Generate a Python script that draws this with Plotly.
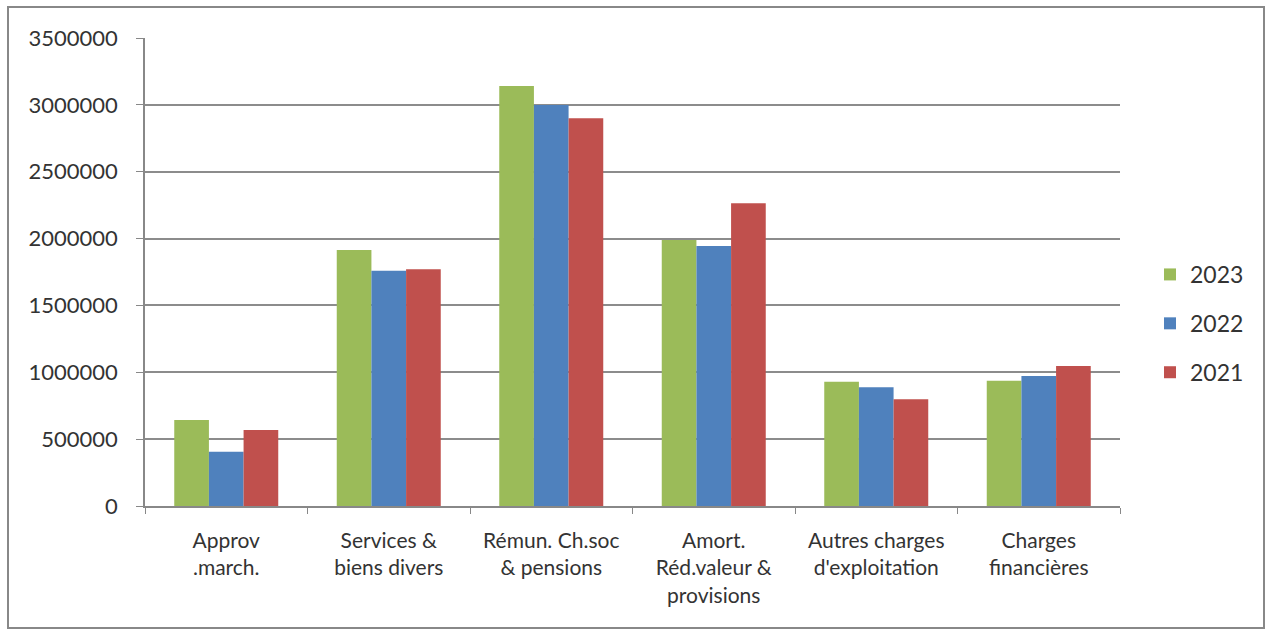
import plotly.graph_objects as go

categories = ["Approv<br>.march.", "Services &<br>biens divers", "Rémun. Ch.soc<br>& pensions",
              "Amort.<br>Réd.valeur &<br>provisions", "Autres charges<br>d'exploitation", "Charges<br>financières"]
series_names = ["2023", "2022", "2021"]
v2023 = [643000, 1915000, 3141000, 1990000, 930000, 937000]
v2022 = [405000, 1760000, 2999000, 1945000, 888000, 972000]
v2021 = [568000, 1770000, 2900000, 2264000, 798000, 1047000]
colors = ["#9BBB59", "#4F81BD", "#C0504D"]
y_ticks = [0, 500000, 1000000, 1500000, 2000000, 2500000, 3000000, 3500000]

W, H = 1272, 635
L, R, T, B = 145, 152, 38, 129

fig = go.Figure()
for i, (name, vals) in enumerate(zip(series_names, [v2023, v2022, v2021])):
    fig.add_trace(go.Bar(x=categories, y=vals, name=name, marker_color=colors[i],
                         marker_line_width=0, legendgroup=name))

yfont = dict(family="Lato, Open Sans, sans-serif", size=22, color="#333333")
xfont = dict(family="Lato, Open Sans, sans-serif", size=21, color="#333333")
fig.update_layout(
    width=W, height=H,
    margin=dict(l=L, r=R, t=T, b=B, pad=0),
    paper_bgcolor="white", plot_bgcolor="white",
    barmode="group", bargap=0.36, bargroupgap=0,
    font=yfont,
    showlegend=True,
    legend=dict(x=1.0 + (1150 - (W - R)) / (W - L - R), y=0.39, xanchor="left", yanchor="middle",
                font=dict(family="Lato, sans-serif", size=23, color="#333333"),
                tracegroupgap=16, itemwidth=30, bgcolor="rgba(0,0,0,0)"),
    xaxis=dict(showline=True, linecolor="#888888", linewidth=1.5, ticks="outside",
               tickson="boundaries", ticklen=6, tickcolor="#888888", showgrid=False,
               tickfont=xfont, ticklabelstandoff=15, tickangle=0, automargin=False),
    yaxis=dict(range=[0, 3500000], tickvals=y_ticks, ticktext=[str(v) for v in y_ticks],
               showline=True, linecolor="#888888", linewidth=1.5, ticks="outside", ticklen=7,
               tickcolor="#888888", showgrid=True, gridcolor="#8c8c8c", gridwidth=1.5,
               zeroline=False, tickfont=yfont, ticklabelstandoff=14, automargin=False),
    shapes=[dict(type="rect", xref="paper", yref="paper",
                 x0=(8 - L) / (W - L - R), x1=(1264 - L) / (W - L - R),
                 y0=(H - B - 628) / (H - T - B), y1=(H - B - 7) / (H - T - B),
                 line=dict(color="#888888", width=2), fillcolor="rgba(0,0,0,0)", layer="below")],
)

fig.write_html("out.html")
